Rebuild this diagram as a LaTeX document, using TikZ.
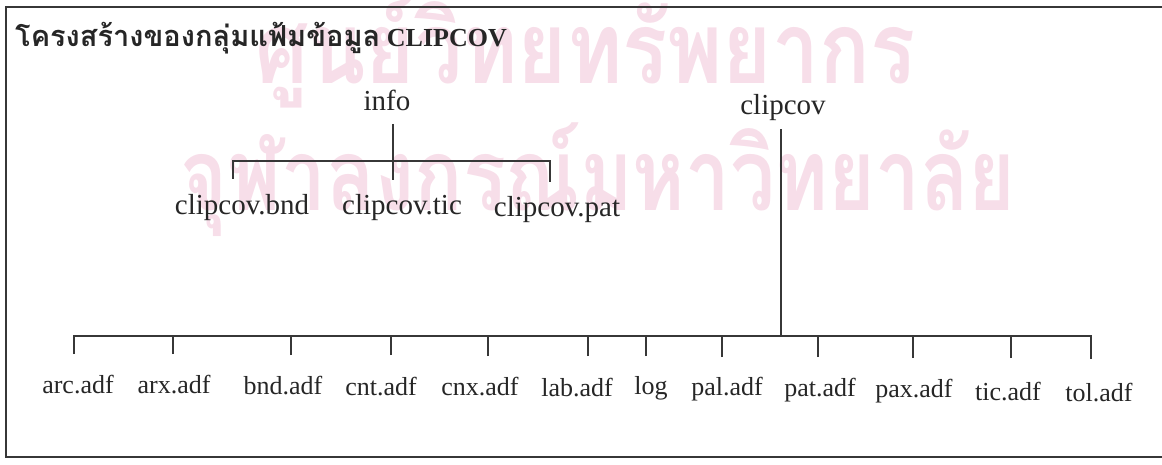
\documentclass[tikz,border=0pt]{standalone}
\usepackage{fontspec}
\setmainfont{Liberation Serif}
\newfontfamily\thaifont[Script=Thai]{Loma}
\usepackage{tikz}
\usepackage{xcolor}

\definecolor{ink}{RGB}{38,38,38}
\definecolor{rule}{RGB}{55,55,55}
\definecolor{stamp}{RGB}{247,222,233}

\begin{document}
\begin{tikzpicture}[x=1pt, y=-1pt,
  tree/.style={draw=rule, line width=1.8pt},
  frame/.style={draw=rule, line width=2.4pt},
  stampline/.style={anchor=base west, text=stamp, inner sep=0pt, font=\fontsize{100}{100}\thaifont\bfseries},
  topfile/.style={text=ink, inner sep=0pt, font=\fontsize{29}{33}\selectfont},
  adffile/.style={text=ink, inner sep=0pt, font=\fontsize{26}{30}\selectfont}]
\useasboundingbox (0,0) rectangle (1162,465);

\node[stampline] (stamp1) at (255,84) {\scalebox{0.84}[1]{ศูนย์วิทยทรัพยากร}};
\node[stampline] (stamp2) at (180,211) {\scalebox{0.8}[1]{จุฬาลงกรณ์มหาวิทยาลัย}};

\draw[frame] (1175,7) -- (6,7) -- (6,457) -- (1175,457);

\node[anchor=base west, text=ink, inner sep=0pt, font=\fontsize{26}{30}\selectfont\bfseries] (title) at (15,47) {{\fontsize{29}{33}\thaifont\bfseries โครงสร้างของกลุ่มแฟ้มข้อมูล} CLIPCOV};

\node[topfile] (info) at (387,100) {info};
\node[topfile] (cbnd) at (242,208) {clipcov.bnd};
\node[topfile] (ctic) at (402,208) {clipcov.tic};
\node[topfile] (cpat) at (557,210) {clipcov.pat};
\coordinate (ibar) at (393,161);
\coordinate (iend) at (393,180);
\coordinate (bndend) at (233,179);
\coordinate (patend) at (550,182);
\draw[tree] (info) ++(6,24) -- (iend);
\draw[tree] (bndend) |- (ibar) -| (patend);

\node[topfile] (clipcov) at (783,108) {clipcov};
\coordinate (cbar) at (781,336);
\draw[tree] (clipcov.south) ++(-2,8) -- (cbar);

\node[adffile] (arc) at (78,385) {arc.adf};
\node[adffile] (arx) at (174,385) {arx.adf};
\node[adffile] (bnd) at (283,386) {bnd.adf};
\node[adffile] (cnt) at (381,387) {cnt.adf};
\node[adffile] (cnx) at (480,387) {cnx.adf};
\node[adffile] (lab) at (577,388) {lab.adf};
\node[adffile] (log) at (651,388) {log};
\node[adffile] (pal) at (727,389) {pal.adf};
\node[adffile] (pat) at (820,390) {pat.adf};
\node[adffile] (pax) at (914,391) {pax.adf};
\node[adffile] (tic) at (1008,392) {tic.adf};
\node[adffile] (tol) at (1099,393) {tol.adf};

\coordinate (tarc) at (74,354);
\coordinate (tarx) at (173,354);
\coordinate (tbnd) at (291,355);
\coordinate (tcnt) at (391,355);
\coordinate (tcnx) at (488,356);
\coordinate (tlab) at (588,356);
\coordinate (tlog) at (646,356);
\coordinate (tpal) at (722,357);
\coordinate (tpat) at (818,357);
\coordinate (tpax) at (913,358);
\coordinate (ttic) at (1011,358);
\coordinate (ttol) at (1091,359);
\draw[tree] (tarc) |- (cbar) -| (ttol);
\draw[tree] (tarx) -- (tarx |- cbar);
\draw[tree] (tbnd) -- (tbnd |- cbar);
\draw[tree] (tcnt) -- (tcnt |- cbar);
\draw[tree] (tcnx) -- (tcnx |- cbar);
\draw[tree] (tlab) -- (tlab |- cbar);
\draw[tree] (tlog) -- (tlog |- cbar);
\draw[tree] (tpal) -- (tpal |- cbar);
\draw[tree] (tpat) -- (tpat |- cbar);
\draw[tree] (tpax) -- (tpax |- cbar);
\draw[tree] (ttic) -- (ttic |- cbar);
\end{tikzpicture}
\end{document}
